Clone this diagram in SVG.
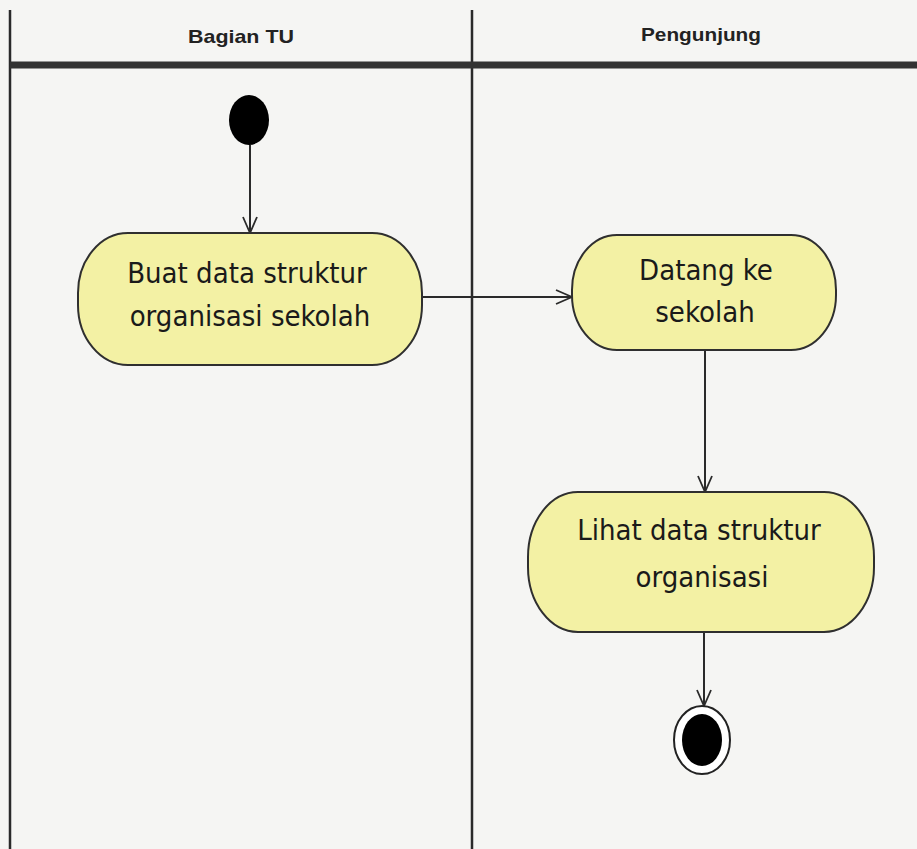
<svg xmlns="http://www.w3.org/2000/svg" width="917" height="849" viewBox="0 0 917 849">
<style>
.lane{stroke:#2a2a2a;stroke-width:2.5;fill:none}
.hdr{font-family:"Liberation Sans",Arial,sans-serif;font-size:19px;font-weight:bold;fill:#222;text-anchor:middle}
.act{fill:#f3f1a4;stroke:#2f2f2f;stroke-width:2}
.lbl{font-family:"Liberation Sans Narrow","DejaVu Sans Condensed","Liberation Sans",sans-serif;font-size:29px;fill:#1a1a1a;text-anchor:middle}
.edge{stroke:#2a2a2a;stroke-width:2;fill:none;marker-end:url(#arr)}
</style>
<defs>
<marker id="arr" viewBox="0 0 18 18" refX="17" refY="9" markerWidth="18" markerHeight="18" markerUnits="userSpaceOnUse" orient="auto">
<path d="M1,2 L17,9 L1,16" fill="none" stroke="#2a2a2a" stroke-width="1.8"/>
</marker>
</defs>
<rect width="917" height="849" fill="#f5f5f3"/>
<g id="swimlanes">
<line class="lane" x1="10" y1="10" x2="10" y2="849"/>
<line class="lane" x1="472" y1="10" x2="472" y2="849"/>
<line x1="10" y1="65" x2="917" y2="65" stroke="#333" stroke-width="7"/>
<text class="hdr" x="241" y="43" textLength="106" lengthAdjust="spacingAndGlyphs">Bagian TU</text>
<text class="hdr" x="701" y="41" textLength="120" lengthAdjust="spacingAndGlyphs">Pengunjung</text>
</g>
<g id="connectors">
<line class="edge" x1="250" y1="145" x2="250" y2="233"/>
<line class="edge" x1="422" y1="297" x2="572" y2="297"/>
<line class="edge" x1="705" y1="350" x2="705" y2="492"/>
<line class="edge" x1="704" y1="632" x2="704" y2="706"/>
</g>
<g id="start">
<ellipse cx="249" cy="120" rx="20" ry="25" fill="#000"/>
</g>
<g id="buat-data">
<rect class="act" x="78" y="233" width="344" height="132" rx="50" ry="60"/>
<text class="lbl" x="247" y="283">Buat data struktur</text>
<text class="lbl" x="250" y="326">organisasi sekolah</text>
</g>
<g id="datang">
<rect class="act" x="572" y="235" width="264" height="115" rx="45" ry="55"/>
<text class="lbl" x="706" y="280">Datang ke</text>
<text class="lbl" x="705" y="322">sekolah</text>
</g>
<g id="lihat-data">
<rect class="act" x="528" y="492" width="346" height="140" rx="50" ry="65"/>
<text class="lbl" x="699" y="540">Lihat data struktur</text>
<text class="lbl" x="702" y="587">organisasi</text>
</g>
<g id="end">
<ellipse cx="702" cy="740" rx="28" ry="34" fill="#fff" stroke="#222" stroke-width="2"/>
<ellipse cx="702" cy="740" rx="20" ry="26" fill="#000"/>
</g>
</svg>
